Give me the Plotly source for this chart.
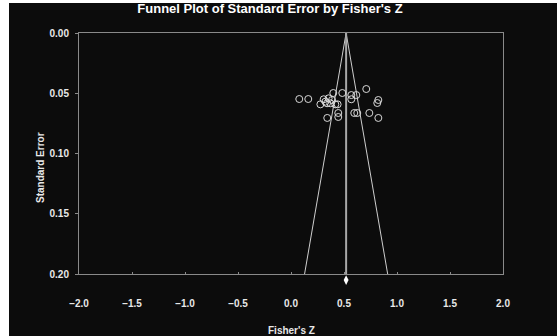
import plotly.graph_objects as go

# Study data: Fisher's Z and its standard error
fisher_z = [0.078, 0.163, 0.399, 0.484, 0.569, 0.616, 0.710, 0.824, 0.814,
            0.342, 0.446, 0.446, 0.597, 0.625, 0.739, 0.824,
            0.277, 0.308, 0.355, 0.371, 0.340, 0.418, 0.440, 0.324, 0.387, 0.569]
std_err = [0.0548, 0.0548, 0.0498, 0.0498, 0.0515, 0.0515, 0.0465, 0.0556, 0.0581,
           0.0705, 0.0664, 0.0697, 0.0664, 0.0664, 0.0664, 0.0705,
           0.0592, 0.0550, 0.0542, 0.0583, 0.0583, 0.0592, 0.0592, 0.0570, 0.0556, 0.0550]

pooled_z = 0.52
se_max = 0.20
z_crit = 1.96
x_ticks = [-2.0, -1.5, -1.0, -0.5, 0.0, 0.5, 1.0, 1.5, 2.0]
y_ticks = [0.00, 0.05, 0.10, 0.15, 0.20]

BG = "#0c0c0c"
AX = "#8a8a8a"
TXT = "#e8e8e8"

W, H = 557, 336
L, R, T, B = 79, 503, 33, 274   # main plot frame in page pixels
B_EXT = 290                      # plot area extended to hold the pooled diamond
PW, PH = R - L, B_EXT - T
y_dom_bottom = (B_EXT - B) / PH

def px(x):
    return (x - L) / PW

def py(y):
    return (B_EXT - y) / PH

fig = go.Figure()

# Funnel (pseudo 95% limits)
fig.add_trace(go.Scatter(
    x=[pooled_z - z_crit * se_max, pooled_z, pooled_z + z_crit * se_max],
    y=[se_max, 0, se_max],
    mode="lines", line=dict(color="#cfcfcf", width=1),
    hoverinfo="skip", showlegend=False))
# Vertical line at pooled estimate
fig.add_trace(go.Scatter(
    x=[pooled_z, pooled_z], y=[0, se_max],
    mode="lines", line=dict(color="#a8a8a8", width=2),
    hoverinfo="skip", showlegend=False))
# Studies
fig.add_trace(go.Scatter(
    x=fisher_z, y=std_err, mode="markers",
    marker=dict(symbol="circle-open", size=7, color="#d8d8d8", line=dict(width=1)),
    showlegend=False))
# Pooled diamond below the axis (own thin strip under the main frame)
fig.add_trace(go.Scatter(
    x=[pooled_z], y=[0.62], mode="markers", xaxis="x", yaxis="y2",
    marker=dict(symbol="diamond-tall", size=7, color="#ffffff"),
    cliponaxis=False, showlegend=False))

fig.update_layout(
    width=W, height=H,
    margin=dict(l=L, r=W - R, t=T, b=H - B_EXT),
    paper_bgcolor="#ffffff", plot_bgcolor=BG,
    font=dict(family="Liberation Sans, Arial, sans-serif", color=TXT),
    title=dict(text="<b>Funnel Plot of Standard Error by Fisher's Z</b>",
               font=dict(size=13, color="#ffffff"),
               x=270 / W, xanchor="center", xref="container",
               y=1 - 8.5 / H, yanchor="middle", yref="container"),
    shapes=[dict(type="rect", xref="paper", yref="paper", layer="below",
                 x0=px(9), x1=px(W + 5), y0=py(H + 5), y1=py(3),
                 fillcolor=BG, line=dict(width=0))],
    annotations=[
        dict(text="<b>Fisher's Z</b>", xref="paper", yref="paper",
             x=0.5, y=py(330), showarrow=False,
             xanchor="center", yanchor="middle",
             font=dict(size=10, color=TXT)),
        dict(text="<b>Standard Error</b>", xref="paper", yref="paper",
             x=px(40), y=py(168), showarrow=False,
             textangle=-90, xanchor="center", yanchor="middle",
             font=dict(size=10, color=TXT,
                       family="Liberation Sans Narrow, Arial Narrow, Liberation Sans")),
    ],
    yaxis2=dict(domain=[0, y_dom_bottom], range=[0, 1], visible=False,
                anchor="x", fixedrange=True),
)

fig.update_xaxes(
    range=[-2, 2], tickvals=x_ticks, tickformat=".1f",
    anchor="y",
    showgrid=False, zeroline=False,
    showline=True, linecolor=AX, linewidth=1, mirror=True,
    ticks="inside", ticklen=2, tickcolor=AX,
    ticklabelstandoff=20,
    tickfont=dict(size=10, color=TXT, family="Liberation Sans, Arial, sans-serif", weight="bold"))
fig.update_layout(yaxis=dict(
    domain=[y_dom_bottom, 1],
    range=[se_max, 0], tickvals=y_ticks, tickformat=".2f",
    showgrid=False, zeroline=False,
    showline=True, linecolor=AX, linewidth=1, mirror=True,
    ticks="outside", ticklen=3, tickcolor=AX,
    ticklabelstandoff=4,
    tickfont=dict(size=10, color=TXT, family="Liberation Sans, Arial, sans-serif", weight="bold")))

fig.write_html("out.html",
               config={"displayModeBar": False},
               post_script="document.body.style.margin='0';document.body.style.overflow='hidden';")
